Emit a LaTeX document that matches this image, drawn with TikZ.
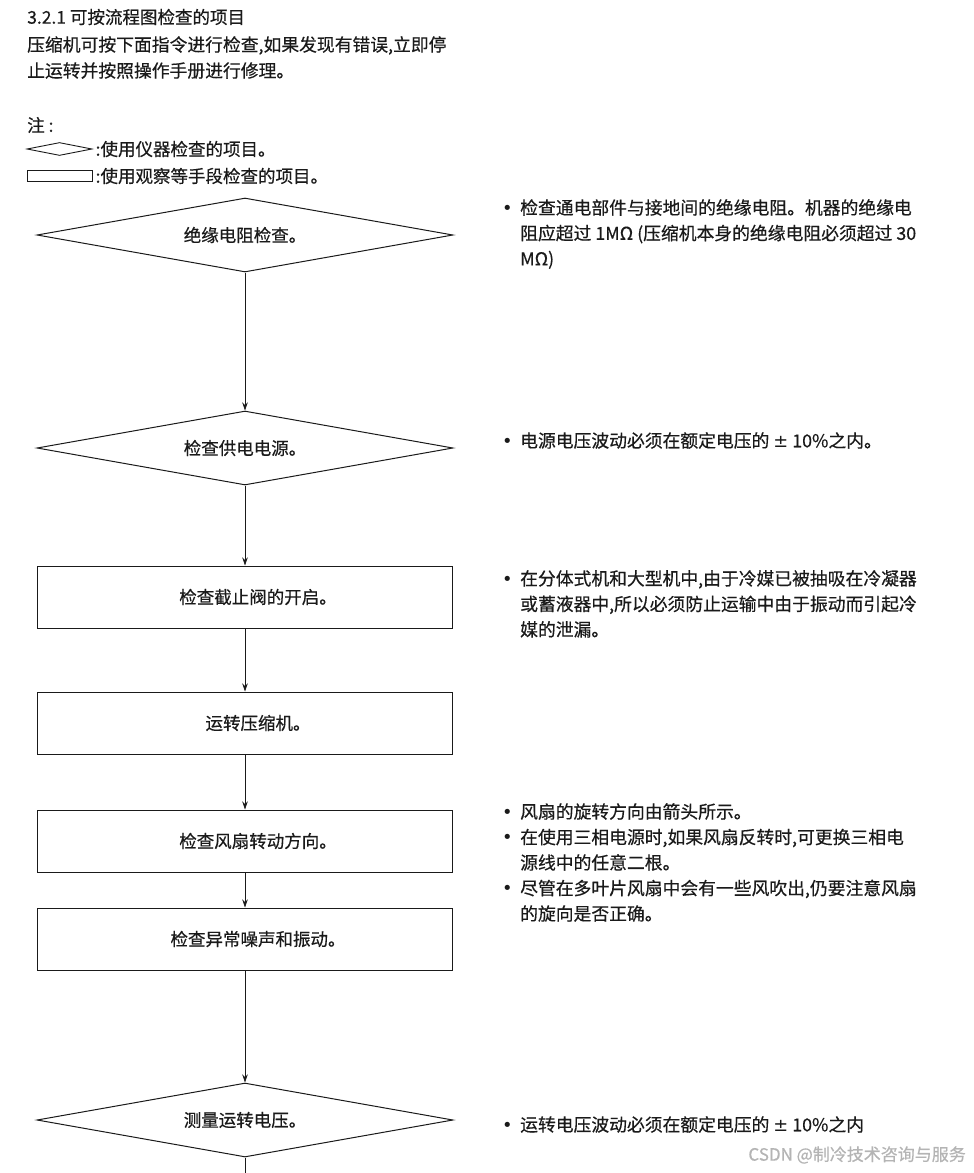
\documentclass[tikz,border=0pt]{standalone}
\usepackage{fontspec}
\setmainfont{Noto Sans CJK SC}[FakeBold=0.5]
\newfontfamily\symfont{DejaVu Sans}
\usetikzlibrary{positioning, arrows.meta, shapes.geometric}
\definecolor{inkblack}{HTML}{1A1A1A}
\definecolor{markgray}{HTML}{B4B4B4}

\newcommand{\bl}{\makebox[18pt][l]{\symfont\textbullet}}
\newcommand{\ind}{\hspace*{18pt}}
\newcommand{\plmi}{{\symfont\char"00B1}}

\begin{document}
\begin{tikzpicture}[
    x=1pt, y=-1pt,
    >={Stealth[length=8pt, width=5.5pt]},
    every node/.style={inner sep=0pt, text=inkblack,
      font=\fontsize{17.5}{26}\selectfont},
    check/.style={
      diamond, draw=inkblack, line width=1pt, aspect=5.6,
      minimum width=416pt, minimum height=74pt
    },
    look/.style={
      rectangle, draw=inkblack, line width=1pt,
      minimum width=415pt, minimum height=62pt,
      execute at begin node={\hspace*{26pt}}
    },
    small/.style={font=\fontsize{17.5}{26}\selectfont},
    note/.style={anchor=north west, align=left,
      font=\fontsize{17.8}{25.5}\selectfont},
    arr/.style={->, line width=0.8pt, draw=inkblack},
  ]
  \useasboundingbox (0,0) rectangle (974,1173);

  % heading and key
  \node[small, anchor=west] (title) at (27,17) {3.2.1 可按流程图检查的项目};
  \node[note, anchor=north west, font=\fontsize{17.8}{26}\selectfont] (intro) at (27,36)
    {压缩机可按下面指令进行检查,如果发现有错误,立即停\\
     止运转并按照操作手册进行修理。};
  \node[small, anchor=west] (zhu) at (27,125) {注 :};
  \node[diamond, draw=inkblack, line width=0.9pt, aspect=5,
        minimum width=65pt, minimum height=13pt] (keyd) at (59.5,149) {};
  \node[small, right=3pt of keyd] (keydtxt) {:使用仪器检查的项目。};
  \node[draw=inkblack, line width=0.9pt, minimum width=65pt,
        minimum height=11pt] (keyr) at (59.5,176) {};
  \node[small, right=3pt of keyr] (keyrtxt) {:使用观察等手段检查的项目。};

  % flow
  \node[check] (d1) at (245,235) {绝缘电阻检查。};
  \node[check, below=138pt of d1] (d2) {检查供电电源。};
  \node[look, below=80pt of d2] (r1) {检查截止阀的开启。};
  \node[look, below=63pt of r1] (r2) {运转压缩机。};
  \node[look, below=55pt of r2] (r3) {检查风扇转动方向。};
  \node[look, below=35pt of r3] (r4) {检查异常噪声和振动。};
  \node[check, below=112pt of r4] (d3) {测量运转电压。};
  \coordinate (bottom) at (0,1173);

  % notes
  \node[note] (n1) at (502,199)
    {\bl 检查通电部件与接地间的绝缘电阻。机器的绝缘电\\
     \ind 阻应超过 1MΩ (压缩机本身的绝缘电阻必须超过 30\\
     \ind MΩ)};
  \node[note] (n2) at (502,432)
    {\bl 电源电压波动必须在额定电压的 \plmi\ 10\%之内。};
  \node[note] (n3) at (502,570)
    {\bl 在分体式机和大型机中,由于冷媒已被抽吸在冷凝器\\
     \ind 或蓄液器中,所以必须防止运输中由于振动而引起冷\\
     \ind 媒的泄漏。};
  \node[note] (n4) at (502,803)
    {\bl 风扇的旋转方向由箭头所示。\\
     \bl 在使用三相电源时,如果风扇反转时,可更换三相电\\
     \ind 源线中的任意二根。\\
     \bl 尽管在多叶片风扇中会有一些风吹出,仍要注意风扇\\
     \ind 的旋向是否正确。};
  \node[note] (n5) at (502,1116)
    {\bl 运转电压波动必须在额定电压的 \plmi\ 10\%之内};

  \node[anchor=east, text=markgray, font=\fontsize{17}{20}\selectfont] (mark)
    at (966,1155) {CSDN @制冷技术咨询与服务};

  \draw[arr] (d1) -- (d2);
  \draw[arr] (d2) -- (r1);
  \draw[arr] (r1) -- (r2);
  \draw[arr] (r2) -- (r3);
  \draw[arr] (r3) -- (r4);
  \draw[arr] (r4) -- (d3);
  \draw[line width=0.8pt, inkblack] (d3.south) -- (d3.south |- bottom);

\end{tikzpicture}
\end{document}
